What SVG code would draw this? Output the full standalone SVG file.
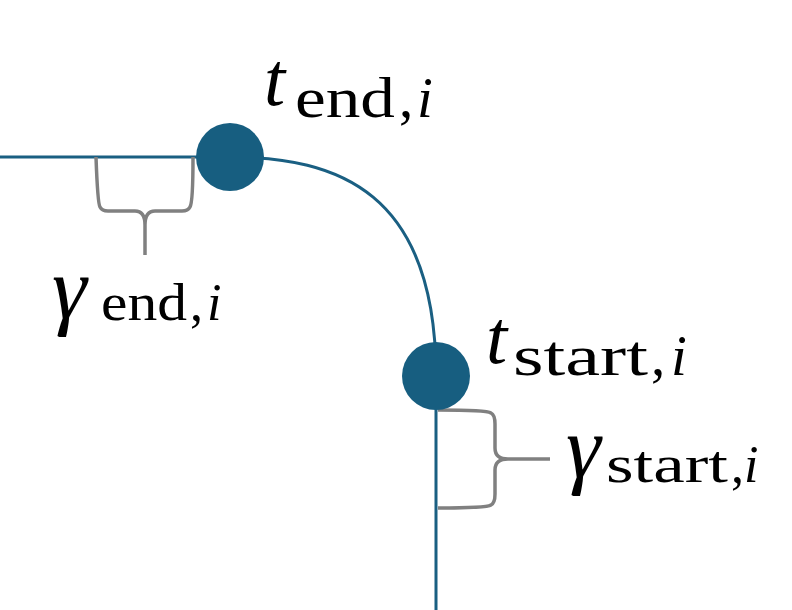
<svg xmlns="http://www.w3.org/2000/svg" width="792" height="610" viewBox="0 0 792 610">
<style>
.path{fill:none;stroke:#1a5f82;stroke-width:3}
.brace{fill:none;stroke:#808080;stroke-width:3.5;stroke-linejoin:round}
.dot{fill:#175e80}
text{font-family:"Liberation Serif","Times New Roman",serif;fill:#000}
.it{font-style:italic}
.big{font-size:76px}
.sub{font-size:57px}
.gbig{font-size:88px}
.gsub{font-size:52px}
</style>
<rect width="792" height="610" fill="#fff"/>
<g id="connectors">
<path class="path" d="M0,157 L230,157 C337,157 436,191 436,376 L436,610"/>
<path class="brace" d="M96,157 C97,185 98,204 100,207 Q102,211 108,211 L135,211 Q145,211 145,225 L145,255 M145,225 Q145,211 155,211 L182,211 Q188,211 190,207 C192,204 193,185 193,157"/>
<path class="brace" d="M438,410 C470,410 488,411 491,413 Q495,415 495,424 L495,448 Q495,459 508,459 L550,459 M508,459 Q495,459 495,470 L495,494 Q495,503 491,505 C488,507 470,508 438,508"/>
</g>
<g id="t_end">
<circle class="dot" cx="230" cy="157" r="34"/>
<text class="it big" x="264" y="105">t</text>
<text class="sub" x="295" y="117" textLength="100" lengthAdjust="spacingAndGlyphs">end</text>
<text class="sub" x="399" y="117">,</text>
<text class="it sub" x="417" y="117">i</text>
</g>
<g id="t_start">
<circle class="dot" cx="436" cy="376" r="34"/>
<text class="it big" x="486" y="363">t</text>
<text class="sub" x="513" y="375" textLength="135" lengthAdjust="spacingAndGlyphs">start</text>
<text class="sub" x="651" y="375">,</text>
<text class="it sub" x="671" y="375">i</text>
</g>
<g id="gamma_end">
<text class="it gbig" x="52" y="318">γ</text>
<text class="gsub" x="101" y="320" textLength="86" lengthAdjust="spacingAndGlyphs">end</text>
<text class="gsub" x="190" y="320">,</text>
<text class="it gsub" x="207" y="320">i</text>
</g>
<g id="gamma_start">
<text class="it gbig" x="566" y="477">γ</text>
<text class="gsub" x="606" y="482" textLength="122" lengthAdjust="spacingAndGlyphs">start</text>
<text class="gsub" x="731" y="482">,</text>
<text class="it gsub" x="744" y="482">i</text>
</g>
</svg>
